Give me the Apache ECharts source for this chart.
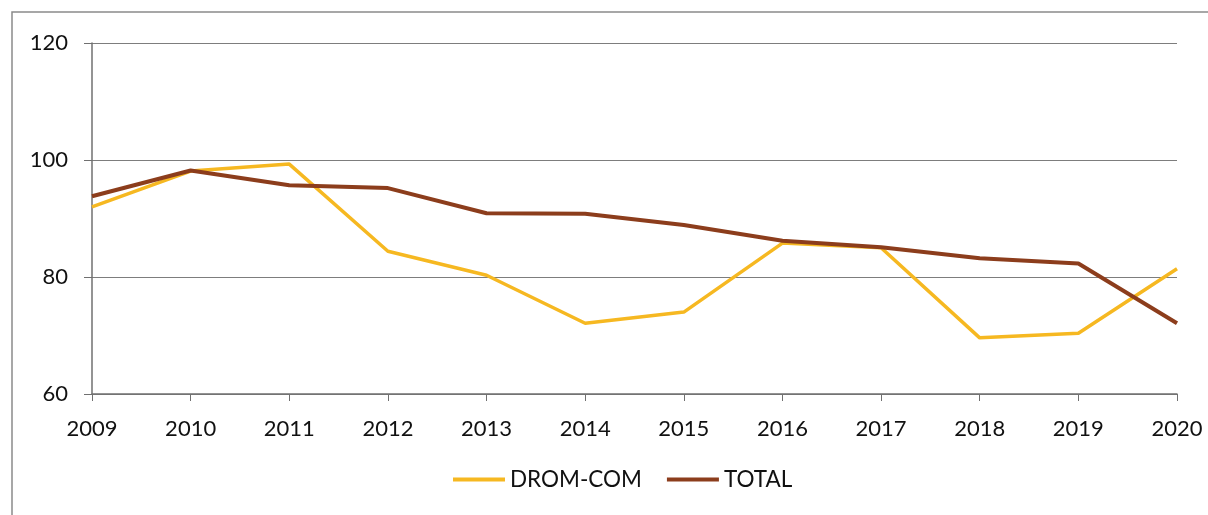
<!DOCTYPE html>
<html>
<head>
<meta charset="utf-8">
<script src="https://cdn.jsdelivr.net/npm/echarts@6/dist/echarts.min.js"></script>
<style>
  html, body { margin: 0; padding: 0; background: #fff; }
  #chart { width: 1208px; height: 515px; }
</style>
</head>
<body>
<div id="chart"></div>
<script>
const years = ['2009', '2010', '2011', '2012', '2013', '2014', '2015', '2016', '2017', '2018', '2019', '2020'];
const dromCom = [92.0, 98.1, 99.3, 84.4, 80.3, 72.1, 74.0, 85.8, 85.0, 69.6, 70.4, 81.4];
const total = [93.8, 98.2, 95.7, 95.2, 90.9, 90.8, 88.9, 86.2, 85.1, 83.2, 82.3, 72.1];

const chart = echarts.init(document.getElementById('chart'));
const font = 'Lato, "Open Sans", sans-serif';

const option = {
    animation: false,
    backgroundColor: '#fff',
    graphic: [{
        type: 'rect',
        shape: { x: 12, y: 12, width: 1400, height: 700 },
        style: { fill: 'none', stroke: '#8a8a8a', lineWidth: 1.5 },
        silent: true
    }],
    grid: { top: 43, left: 92, right: 31, bottom: 121 },
    legend: {
        bottom: 19,
        left: 448,
        icon: 'rect',
        itemWidth: 52,
        itemHeight: 4,
        itemGap: 25,
        textStyle: { fontFamily: font, fontSize: 22.5, color: '#111' },
        data: ['DROM-COM', 'TOTAL']
    },
    xAxis: {
        type: 'category',
        data: years,
        boundaryGap: false,
        axisLine: { lineStyle: { color: '#707070', width: 1.5 } },
        axisTick: { alignWithLabel: true, length: 7, lineStyle: { color: '#707070' } },
        axisLabel: { fontFamily: font, fontSize: 22, color: '#111', margin: 24 }
    },
    yAxis: {
        type: 'value',
        min: 60,
        max: 120,
        interval: 20,
        axisLine: { show: true, lineStyle: { color: '#707070', width: 1.5 } },
        axisTick: { show: true, length: 8, lineStyle: { color: '#707070' } },
        axisLabel: { fontFamily: font, fontSize: 22, color: '#111', margin: 24 },
        splitLine: { lineStyle: { color: '#7d7d7d', width: 1.2 } }
    },
    series: [
        {
            name: 'DROM-COM',
            type: 'line',
            data: dromCom,
            symbol: 'none',
            lineStyle: { color: '#f6b821', width: 3.5 },
            itemStyle: { color: '#f6b821' }
        },
        {
            name: 'TOTAL',
            type: 'line',
            data: total,
            symbol: 'none',
            lineStyle: { color: '#8c3d1c', width: 4 },
            itemStyle: { color: '#8c3d1c' }
        }
    ]
};

chart.setOption(option);
</script>
</body>
</html>
